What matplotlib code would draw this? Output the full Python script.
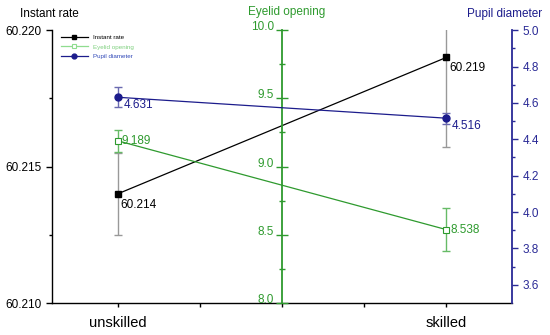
import matplotlib
matplotlib.use("Agg")
import matplotlib.pyplot as plt
from matplotlib.ticker import MultipleLocator, FixedLocator

plt.rcParams['font.family'] = ['Liberation Sans', 'DejaVu Sans']

# data
groups = ["unskilled", "skilled"]
xpos = [1, 2]
instant_rate = [60.214, 60.219]
instant_err = [0.0015, 0.0033]
eyelid = [9.189, 8.538]
eyelid_err = [0.08, 0.16]
pupil = [4.631, 4.516]
pupil_err = [0.055, 0.03]

black = "#000000"
green = "#2e9a2e"
navy = "#1c1c8c"
navy_axis = "#2a2a96"

fig = plt.figure(figsize=(5.5, 3.35), dpi=100)
ax = fig.add_axes([0.0945, 0.0955, 0.8365, 0.8145])
ax2 = ax.twinx()
ax3 = ax.twinx()

# instant rate (left axis)
ax.errorbar(xpos, instant_rate, yerr=instant_err, fmt='none', ecolor="#999999",
            elinewidth=1, capsize=3, zorder=2)
l1, = ax.plot(xpos, instant_rate, color=black, lw=0.9, marker='s', markersize=5,
              label="Instant rate", zorder=3)
ax.set_xlim(0.8, 2.2)
ax.set_ylim(60.210, 60.220)
ax.yaxis.set_major_locator(FixedLocator([60.210, 60.215, 60.220]))
ax.yaxis.set_minor_locator(FixedLocator([60.2125, 60.2175]))
ax.set_yticklabels(["60.210", "60.215", "60.220"])
ax.set_xticks([1, 1.5, 2])
ax.set_xticklabels([groups[0], "", groups[1]], fontsize=10.5)
ax.xaxis.set_minor_locator(FixedLocator([1.25, 1.75]))
ax.tick_params(axis='y', which='both', direction='out', labelsize=8.5, width=1)
ax.tick_params(axis='y', which='major', length=4)
ax.tick_params(axis='y', which='minor', length=2.5)
ax.tick_params(axis='x', which='both', direction='out', length=3, width=1, pad=6)
for s in ['top', 'right']:
    ax.spines[s].set_visible(False)
ax.spines['left'].set_linewidth(1)
ax.spines['bottom'].set_linewidth(1)

for xv, yv in zip(xpos, instant_rate):
    ax.annotate(f"{yv:.3f}", (xv, yv), xytext=(2, -3.5), textcoords='offset points',
                ha='left', va='top', fontsize=8.5, color=black)

# eyelid opening (middle axis)
ax2.errorbar(xpos, eyelid, yerr=eyelid_err, fmt='none', ecolor="#66bb66",
             elinewidth=1, capsize=3, zorder=2)
l2, = ax2.plot(xpos, eyelid, color=green, lw=0.9, marker='s', markersize=4.5,
               markerfacecolor='white', markeredgecolor=green, markeredgewidth=0.8,
               label="Eyelid opening", zorder=3)
ax2.set_ylim(8.0, 10.0)
ax2.yaxis.set_major_locator(MultipleLocator(0.5))
ax2.yaxis.set_minor_locator(MultipleLocator(0.25))
ax2.yaxis.set_ticks_position('left')
ax2.yaxis.set_label_position('left')
ax2.spines['left'].set_position(('data', 1.5))
ax2.spines['left'].set_color(green)
ax2.spines['left'].set_linewidth(1.3)
for s in ['top', 'right', 'bottom']:
    ax2.spines[s].set_visible(False)
ax2.tick_params(axis='y', which='both', direction='inout', colors=green,
                labelsize=8.5, width=1)
ax2.tick_params(axis='y', which='major', length=8, pad=1.5)
ax2.tick_params(axis='y', which='minor', length=4.5)
ax2.tick_params(axis='y', labelcolor=green)
for lab in ax2.get_yticklabels():
    lab.set_verticalalignment('baseline')

for xv, yv in zip(xpos, eyelid):
    ax2.annotate(f"{yv:.3f}", (xv, yv), xytext=(3, 0), textcoords='offset points',
                 ha='left', va='center', fontsize=8.5, color=green)

# pupil diameter (right axis)
ax3.errorbar(xpos, pupil, yerr=pupil_err, fmt='none', ecolor="#6a6ab0",
             elinewidth=1, capsize=3, zorder=2)
l3, = ax3.plot(xpos, pupil, color=navy, lw=0.9, marker='o', markersize=5,
               label="Pupil diameter", zorder=3)
ax3.set_ylim(3.5, 5.0)
ax3.yaxis.set_major_locator(FixedLocator([3.6, 3.8, 4.0, 4.2, 4.4, 4.6, 4.8, 5.0]))
ax3.yaxis.set_minor_locator(FixedLocator([3.7, 3.9, 4.1, 4.3, 4.5, 4.7, 4.9]))
ax3.set_yticklabels(["3.6", "3.8", "4.0", "4.2", "4.4", "4.6", "4.8", "5.0"])
for s in ['top', 'left', 'bottom']:
    ax3.spines[s].set_visible(False)
ax3.spines['right'].set_color(navy_axis)
ax3.spines['right'].set_linewidth(1.3)
ax3.tick_params(axis='y', which='both', direction='out', colors=navy_axis,
                labelsize=8.5, width=1)
ax3.tick_params(axis='y', which='major', length=4)
ax3.tick_params(axis='y', which='minor', length=2.5)

ax3.annotate(f"{pupil[0]:.3f}", (xpos[0], pupil[0]), xytext=(4, -1.5),
             textcoords='offset points', ha='left', va='top', fontsize=8.5, color=navy)
ax3.annotate(f"{pupil[1]:.3f}", (xpos[1], pupil[1]), xytext=(4, -1.5),
             textcoords='offset points', ha='left', va='top', fontsize=8.5, color=navy)

# legend
leg = ax3.legend(handles=[l1, l2, l3], loc='upper left', bbox_to_anchor=(0.008, 1.005),
                 frameon=False, fontsize=4.5, handlelength=4.2, handletextpad=0.8,
                 labelspacing=0.7, markerscale=0.7)
for txt, c in zip(leg.get_texts(), [black, "#7fd07f", "#3048b8"]):
    txt.set_color(c)
leg.legend_handles[1].set_color("#8fdc8f")
leg.legend_handles[1].set_markeredgecolor("#8fdc8f")

# axis titles
fig.text(20 / 550, 1 - 14 / 335, "Instant rate", fontsize=8.5, ha='left', va='center',
         color=black)
fig.text(287 / 550, 1 - 12.5 / 335, "Eyelid opening", fontsize=8.5, ha='center',
         va='center', color=green)
fig.text(505 / 550, 1 - 14 / 335, "Pupil diameter", fontsize=8.5, ha='center',
         va='center', color=navy)

fig.savefig("out.png", dpi=100)
